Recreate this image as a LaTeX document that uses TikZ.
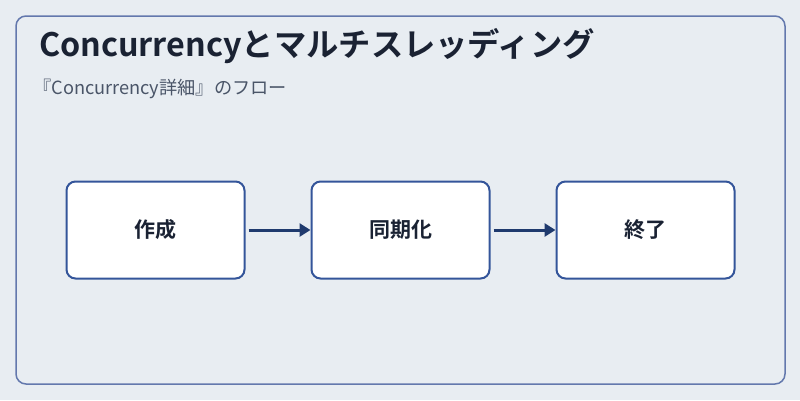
\documentclass[tikz,border=0pt]{standalone}
\usepackage{fontspec}
\setmainfont{Noto Sans CJK JP}
\newfontfamily\jpb{Noto Sans CJK JP Bold}
\usetikzlibrary{arrows.meta}
\definecolor{bg}{HTML}{E8EDF2}
\definecolor{frame}{HTML}{6378AD}
\definecolor{boxb}{HTML}{34559A}
\definecolor{arr}{HTML}{1F3A6E}
\definecolor{ttl}{HTML}{1A2233}
\definecolor{sub}{HTML}{4A5568}
\begin{document}
\begin{tikzpicture}[x=1pt,y=-1pt,
  stepbox/.style={draw=boxb,line width=2pt,fill=white,rounded corners=9pt,minimum width=178pt,minimum height=97pt,font=\jpb\fontsize{21}{24}\selectfont,text=ttl},
  conn/.style={draw=arr,line width=3pt,-{Triangle[length=11pt,width=13pt]}}]
\fill[bg] (0,0) rectangle (800,400);
\useasboundingbox (0,0) rectangle (800,400);
\draw[frame,line width=1.5pt,rounded corners=10pt,fill=bg] (16,16) rectangle (785,384);
\node[anchor=west,text=ttl,font=\jpb\fontsize{32.3}{36}\selectfont,inner sep=0pt] (title) at (39,46) {Concurrencyとマルチスレッディング};
\node[anchor=west,text=sub,font=\fontsize{18.2}{21}\selectfont,inner sep=0pt] (subt) at (33,89) {『Concurrency詳細』のフロー};
\node[stepbox] (a) at (155.5,230) {作成};
\node[stepbox] (b) at (400.5,230) {同期化};
\node[stepbox] (c) at (645.5,230) {終了};
\draw[conn] ([xshift=3pt]a.east) -- (b.west);
\draw[conn] ([xshift=3pt]b.east) -- (c.west);
\end{tikzpicture}
\end{document}
